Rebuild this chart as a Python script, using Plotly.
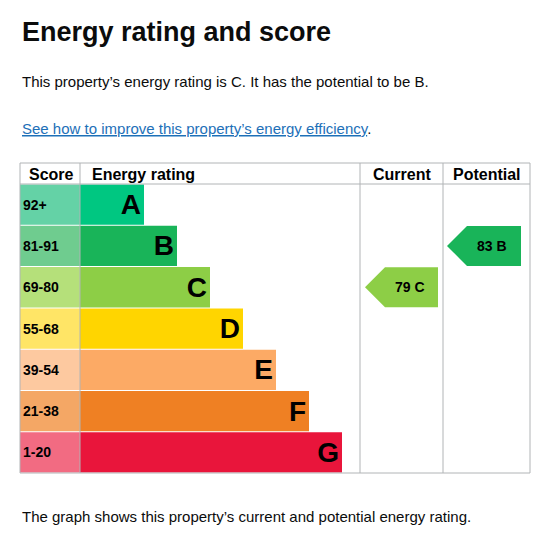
import plotly.graph_objects as go

bands = ['A', 'B', 'C', 'D', 'E', 'F', 'G']
score_ranges = ['92+', '81-91', '69-80', '55-68', '39-54', '21-38', '1-20']
bar_colors = ['#00c781', '#19b459', '#8dce46', '#ffd500', '#fcaa65', '#ef8023', '#e9153b']
score_colors = ['#64d2a6', '#6fcc8f', '#b5e07a', '#ffe566', '#fdc9a0', '#f4a765', '#f26b82']
current_score, current_band = 79, 'C'
potential_score, potential_band = 83, 'B'

# pixel geometry of the table
left, right = 22, 532
top, head = 163, 184
row_h = 41.3
col_rating, col_current, col_potential = 82, 362, 445
bar_step = 33

fig = go.Figure()
centers = [head + row_h * (i + 0.5) for i in range(len(bands))]

fig.add_trace(go.Bar(
    y=centers, x=[col_rating - left] * 7, base=left, orientation='h', width=row_h - 1,
    marker=dict(color=score_colors, line_width=0), text=['<b>' + s + '</b>' for s in score_ranges],
    textposition='inside', insidetextanchor='start',
    textfont=dict(family='Arial', size=14, color='black'), hoverinfo='skip'))
fig.add_trace(go.Bar(
    y=centers, x=[64 + bar_step * i for i in range(7)], base=col_rating, orientation='h',
    width=row_h - 1, marker=dict(color=bar_colors, line_width=0),
    text=['<b>' + b + '</b>' for b in bands], textposition='inside', insidetextanchor='end',
    textfont=dict(family='Arial', size=28, color='black'), hoverinfo='skip'))


def arrow(band, score, x0, x1):
    yc = centers[bands.index(band)]
    h = 20
    fig.add_trace(go.Scatter(
        x=[x0, x0 + 20, x1, x1, x0 + 20, x0], y=[yc, yc - h, yc - h, yc + h, yc + h, yc],
        fill='toself', fillcolor=bar_colors[bands.index(band)], line_width=0,
        mode='lines', hoverinfo='skip'))
    fig.add_annotation(x=(x0 + x1) / 2 + 8, y=yc, text=f'<b>{score} {band}</b>', showarrow=False,
                       font=dict(family='Arial', size=14, color='black'))


arrow(current_band, current_score, 367, 440)
arrow(potential_band, potential_score, 449, 523)

grid = '#b1b4b6'
shapes = [dict(type='rect', x0=left, x1=right, y0=top, y1=473, line=dict(color=grid, width=1)),
          dict(type='line', x0=left, x1=right, y0=head, y1=head, line=dict(color=grid, width=1))]
for xv in [col_rating, col_current, col_potential]:
    shapes.append(dict(type='line', x0=xv, x1=xv, y0=top, y1=473, line=dict(color=grid, width=1)))
fig.update_layout(shapes=shapes)

hdr = dict(family='Arial', size=16, color='black')
for xv, t, anc in [(29, '<b>Score</b>', 'left'), (92, '<b>Energy rating</b>', 'left'),
                   ((col_current + col_potential) / 2, '<b>Current</b>', 'center'),
                   ((col_potential + right) / 2, '<b>Potential</b>', 'center')]:
    fig.add_annotation(x=xv, y=(top + head) / 2 + 1, text=t, showarrow=False, xanchor=anc, font=hdr)

font = 'Arial'
fig.add_annotation(x=22, y=32, text='<b>Energy rating and score</b>', showarrow=False, xanchor='left',
                   font=dict(family=font, size=27, color='#0b0c0c'))
fig.add_annotation(x=22, y=81, text='This property’s energy rating is C. It has the potential to be B.',
                   showarrow=False, xanchor='left', font=dict(family=font, size=15, color='#0b0c0c'))
fig.add_annotation(x=22, y=128, text='<span style="color:#1d70b8"><u>See how to improve this property’s energy efficiency</u></span>.',
                   showarrow=False, xanchor='left', font=dict(family=font, size=15, color='#0b0c0c'))
fig.add_annotation(x=22, y=516, text='The graph shows this property’s current and potential energy rating.',
                   showarrow=False, xanchor='left', font=dict(family=font, size=15, color='#0b0c0c'))

# page body adds an offset, so the view is shifted to compensate
fig.update_layout(
    width=551, height=533, margin=dict(l=0, r=0, t=0, b=0), showlegend=False, barmode='overlay',
    paper_bgcolor='white', plot_bgcolor='white',
    xaxis=dict(range=[10, 561], visible=False, fixedrange=True),
    yaxis=dict(range=[541, 8], visible=False, fixedrange=True),
)
fig.write_html('out.html', config={'displayModeBar': False})
